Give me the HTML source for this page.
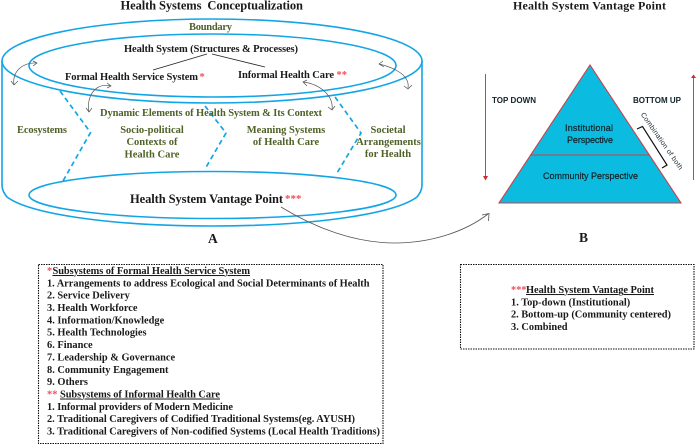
<!DOCTYPE html>
<html><head><meta charset="utf-8"><style>
html,body{margin:0;padding:0;background:#fff}
svg{display:block}
.s{font-family:"Liberation Serif",serif;font-weight:700;fill:#1a1a1a}
.g{fill:#4f6228;font-size:10.5px}
.r{fill:#f0505a}
.b{font-size:10.4px}
.p{font-family:"Liberation Sans",sans-serif;fill:#10222a;font-size:9px;stroke:#10222a;stroke-width:.2}
.t{font-family:"Liberation Sans",sans-serif;fill:#10222a;font-size:8px;font-weight:700}
.c{fill:none;stroke:#12a5e6;stroke-width:1.6}
.d{fill:none;stroke:#12a5e6;stroke-width:1.7;stroke-dasharray:5 3.5}
.k{fill:none;stroke:#555;stroke-width:.7}
</style></head><body>
<svg width="700" height="447" viewBox="0 0 700 447" xmlns="http://www.w3.org/2000/svg">
<!-- cylinder -->
<ellipse class="c" cx="212" cy="61" rx="210" ry="42"/>
<ellipse class="c" cx="212.5" cy="65.5" rx="183.5" ry="31.5"/>
<ellipse class="c" cx="212.5" cy="195" rx="183.5" ry="23.5"/>
<path class="c" d="M2 61V185C2 190 4 193 7 197C30 214 110 226 212 226C314 226 394 214 417 197C420 193 422 190 422 185V61"/>
<path class="d" d="M60 91L90.500 132.500L63 181"/>
<path class="d" d="M205 106L226 133L205 169"/>
<path class="d" d="M335 97L361 133L337 173"/>
<path d="M207 54L153 70M212 54L265 67" stroke="#222" stroke-width=".9" fill="none"/>
<!-- curved arrows -->
<path class="k" d="M37 63C22 62 12 72 14 85M11 81L14 85L18 81M33 61L37 63L33 66"/>
<path class="k" d="M111 86C95 82 86 97 89 112M86 108L89 112L92 108M107 83L111 86L107 88"/>
<path class="k" d="M379 64C396 68 410 76 408 88M404 86L408 89L412 85M383 61L379 64L384 67"/>
<path class="k" d="M303 82C320 84 334 96 332 110M328 107L332 110L335 106M307 80L303 82L307 86"/>
<path d="M281 207C315 228 355 243 395 243C430 243 465 232 488 214M482 215L489 213.500L488.500 221" fill="none" stroke="#555" stroke-width=".8"/>
<!-- titles and labels -->
<text class="s" x="120.500" y="9.500" font-size="12.500" textLength="182.500">Health Systems&#160; Conceptualization</text>
<text class="s g" x="189" y="30" textLength="43">Boundary</text>
<text class="s" x="124" y="52" font-size="10.500" textLength="174">Health System (Structures &amp; Processes)</text>
<text class="s" x="65" y="80" font-size="10.500" textLength="133">Formal Health Service System</text>
<text class="s r" x="199.500" y="80" font-size="10.500">*</text>
<text class="s" x="238" y="78" font-size="10.500" textLength="96">Informal Health Care</text>
<text class="s r" x="336.500" y="78" font-size="10.500">**</text>
<text class="s g" x="100" y="116" textLength="222">Dynamic Elements of Health System &amp; Its Context</text>
<text class="s g" x="17" y="133" textLength="50">Ecosystems</text>
<g class="s g" text-anchor="middle">
<text x="152" y="133">Socio-political</text>
<text x="152" y="145">Contexts of</text>
<text x="152" y="157.500">Health Care</text>
<text x="286" y="133">Meaning Systems</text>
<text x="286" y="145">of Health Care</text>
<text x="388" y="133">Societal</text>
<text x="388.500" y="145">Arrangements</text>
<text x="388" y="157">for Health</text>
</g>
<text class="s" x="130" y="203" font-size="12.500" textLength="153">Health System Vantage Point</text>
<text class="s r" x="285" y="202" font-size="11">***</text>
<text class="s" x="208" y="243" font-size="13.500">A</text>
<text class="s" x="579" y="242" font-size="13.500">B</text>
<text class="s" x="513" y="9.500" font-size="12" textLength="153">Health System Vantage Point</text>
<!-- pyramid -->
<path d="M590 65L499 203H681Z" fill="#0bbce0" stroke="#cc3f49" stroke-width="1.100"/>
<path d="M530 155H650" stroke="#cc3f49" stroke-width="1.100"/>
<text class="p" x="565" y="131" textLength="48">Institutional</text>
<text class="p" x="567" y="143" textLength="46">Perspective</text>
<text class="p" x="543" y="179" textLength="95">Community Perspective</text>
<text class="t" x="492" y="103" textLength="44">TOP DOWN</text>
<text class="t" x="633" y="103" textLength="48">BOTTOM UP</text>
<path d="M485.500 74V178" stroke="#cc2b35" stroke-width=".9"/><path d="M483 176L485.500 180.500L488 176Z" fill="#cc2b35"/>
<path d="M693.500 180V77" stroke="#cc2b35" stroke-width=".9"/><path d="M691 78L693.500 74.500L696 78Z" fill="#cc2b35"/>
<path d="M637 129L642.500 126.500L667 165L662 168" fill="none" stroke="#111" stroke-width="1.200"/>
<text transform="translate(640.500 114.500) rotate(55)" font-family="Liberation Sans, sans-serif" fill="#10222a" font-size="7" textLength="68">Combination of both</text>
<!-- box 1 -->
<rect x="38.500" y="264.500" width="344.500" height="179" fill="none" stroke="#111" stroke-width="1.100" stroke-dasharray="1.500 1"/>
<g class="s b">
<text class="r" x="47" y="274">*</text>
<text x="52.500" y="274" textLength="197.500" text-decoration="underline">Subsystems of Formal Health Service System</text>
<text x="47" y="286.300" textLength="322.500">1. Arrangements to address Ecological and Social Determinants of Health</text>
<text x="47" y="298.700">2. Service Delivery</text>
<text x="47" y="311">3. Health Workforce</text>
<text x="47" y="323.400">4. Information/Knowledge</text>
<text x="47" y="335.700">5. Health Technologies</text>
<text x="47" y="348">6. Finance</text>
<text x="47" y="360.400">7. Leadership &amp; Governance</text>
<text x="47" y="372.800">8. Community Engagement</text>
<text x="47" y="385">9. Others</text>
<text class="r" x="47" y="397.500">**</text>
<text x="60" y="397.500" textLength="160" text-decoration="underline">Subsystems of Informal Health Care</text>
<text x="47" y="409.800" textLength="186">1. Informal providers of Modern Medicine</text>
<text x="47" y="422.200" textLength="308">2. Traditional Caregivers of Codified Traditional Systems(eg. AYUSH)</text>
<text x="47" y="434.500" textLength="333">3. Traditional Caregivers of Non-codified Systems (Local Health Traditions)</text>
</g>
<!-- box 2 -->
<rect x="460.500" y="264.500" width="233.500" height="84.500" fill="none" stroke="#111" stroke-width="1.100" stroke-dasharray="1.500 1"/>
<g class="s b">
<text class="r" x="511" y="293">***</text>
<text x="526" y="293" textLength="128" text-decoration="underline">Health System Vantage Point</text>
<text x="511" y="305.500">1. Top-down (Institutional)</text>
<text x="511" y="317.500" textLength="160">2. Bottom-up (Community centered)</text>
<text x="511" y="330">3. Combined</text>
</g>
</svg>
</body></html>
